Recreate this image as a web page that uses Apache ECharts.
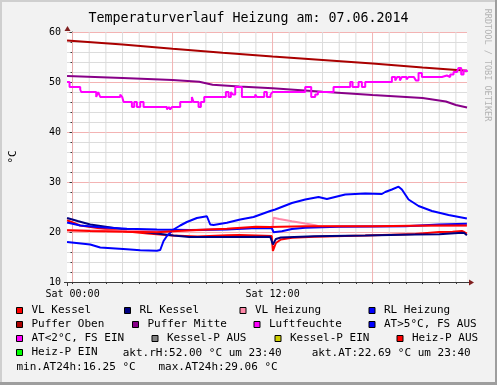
<!DOCTYPE html>
<html><head><meta charset="utf-8">
<script src="https://cdn.jsdelivr.net/npm/echarts@6.0.0/dist/echarts.min.js"></script>
<style>html,body{margin:0;padding:0;background:#f2f2f2}#c{width:497px;height:385px}</style>
</head><body><div id="c"></div>
<script>
// ---------- data (hours since Sat 00:00, value) ----------
const chartTitle = 'Temperaturverlauf Heizung am: 07.06.2014';
const xLabelHours = [0, 12];
const xLabelTexts = ['Sat 00:00', 'Sat 12:00'];
const hourGrid = [0,1,2,3,4,5,6,7,8,9,10,11,12,13,14,15,16,17,18,19,20,21,22,23];
const majorHours = [0, 6, 12, 18];
const yTicks = [10, 20, 30, 40, 50, 60];

const vlKessel = [[-0.33,22.35],[0.46,21.3],[1.5,20.8],[3,20.2],[4.5,19.7],[6,19.3],[7.5,19.1],[9.3,19.35],[10,19.4],[11.5,19.25],[11.95,19.2],[12.02,16.2],[12.2,17.8],[12.5,18.5],[13.16,18.85],[14.5,19.05],[17.56,19.3],[20.56,19.6],[22,20.0],[22.8,20.05],[23.36,20.2],[23.5,20.0],[23.66,19.7]];
const rlKessel = [[-0.33,22.8],[0.3,22.2],[1.06,21.5],[2.5,20.8],[4.5,19.9],[6.06,19.3],[7,19.0],[9.26,19.0],[11.86,19.05],[11.95,19.15],[12.02,17.5],[12.2,18.6],[12.5,18.9],[14.5,19.15],[17.56,19.3],[20.56,19.5],[22,19.55],[23.36,19.83],[23.5,19.8],[23.66,19.35]];
const vlHeizung = [[-0.33,20.35],[6,20.15],[11.86,20.95],[12.0,21.0],[12.06,22.85],[12.4,22.6],[13.16,22.15],[13.96,21.7],[14.56,21.37],[14.76,21.15],[18,21.15],[23.66,21.3]];
const rlHeizung = [[-0.33,21.9],[0.46,21.3],[1.66,20.95],[3.26,20.65],[5.06,20.5],[7.06,20.4],[9.26,20.5],[11.06,20.8],[11.96,20.75],[12.06,19.95],[12.56,20.15],[13.16,20.6],[13.96,20.85],[15.96,21.03],[19.96,21.17],[21.96,21.5],[23.66,21.63]];
const pufferOben = [[-0.33,58.3],[3,57.5],[6,56.65],[9,55.85],[12,55.1],[15,54.4],[18,53.7],[21,52.9],[23.67,52.25]];
const pufferMitte = [[-0.33,51.2],[3,50.8],[6,50.4],[7.6,50.05],[8.4,49.45],[10,49.1],[12,48.75],[15,48.05],[18,47.4],[21,46.8],[22.4,46.1],[23,45.4],[23.67,44.9]];
const luftfeuchte = [[-0.33,50],[-0.18,49],[0.46,48.5],[0.52,48],[1.42,47],[1.54,48],[1.66,47],[2.86,47.5],[2.98,47],[3.06,46],[3.56,45],[3.70,46],[3.86,45],[4.06,46],[4.26,45],[5.66,44.5],[5.78,45],[5.86,44.5],[5.96,45],[6.46,46],[7.16,47],[7.26,46],[7.56,45],[7.70,46],[7.90,47],[9.20,48],[9.36,47],[9.50,48],[9.62,47.5],[9.76,49],[10.16,47],[10.96,47.5],[11.06,47],[11.50,48],[11.66,47],[11.88,47.5],[12.00,48],[13.96,49],[14.32,47],[14.56,47.5],[14.72,48],[15.66,49],[16.66,50],[16.80,49],[17.16,50],[17.36,49],[17.56,50],[19.16,51],[19.36,50.3],[19.48,51],[19.64,50.3],[19.76,51],[20.04,50.5],[20.16,51],[20.48,51],[20.60,50.3],[20.76,51.8],[20.96,51],[22.16,51.3],[22.46,51],[22.66,51.5],[22.86,52],[23.06,51.7],[23.16,52.8],[23.32,51.5],[23.46,52.3],[23.66,52]];
const aussenTemp = [[-0.33,18],[1.06,17.5],[1.66,16.9],[3.26,16.55],[4.06,16.35],[5.06,16.25],[5.26,16.4],[5.46,18.2],[5.66,19.2],[6.06,20.5],[6.46,21.3],[6.86,22],[7.46,22.8],[8.06,23.15],[8.16,23.0],[8.26,21.5],[8.46,21.4],[9.26,21.85],[10.06,22.5],[10.86,23.0],[11.86,24.2],[12.16,24.5],[13.16,25.8],[13.96,26.5],[14.76,27.0],[15.26,26.6],[15.36,27.0],[16.36,27.5],[17.56,27.7],[18.56,27.6],[18.76,28.0],[19.16,28.5],[19.26,28.2],[19.56,29.06],[19.76,28.5],[20.16,26.5],[20.76,25.2],[21.56,24.2],[22.56,23.4],[23.66,22.69]];
const heizPAus = [[-0.33,20.35],[1.06,20.2],[3.26,20.05],[5.06,19.95],[6.06,20.15],[7.06,20.35],[9.26,20.65],[11,21.05],[11.86,21.0],[12.5,21.05],[14,21.15],[18,21.15],[21.56,21.3],[23.66,21.3]];
const emptySeries = [];

const seriesNames = ['VL Kessel','RL Kessel','VL Heizung','RL Heizung','Puffer Oben','Puffer Mitte','Luftfeuchte','AT>5°C, FS AUS','AT<2°C, FS EIN','Kessel-P AUS','Kessel-P EIN','Heiz-P AUS','Heiz-P EIN'];
const seriesData = [vlKessel, rlKessel, vlHeizung, rlHeizung, pufferOben, pufferMitte, luftfeuchte, aussenTemp, emptySeries, emptySeries, emptySeries, heizPAus, emptySeries];
const seriesColors = ['#ff0000','#000080','#ff88a8','#0000ff','#aa0000','#880088','#ff00ff','#0000ff','#ff00ff','#808080','#cccc00','#ff0000','#00ff00'];

// ---------- layout ----------
const FONT = '"DejaVu Sans Mono", monospace';
const rowCenters = [311.5, 325.5, 339.5, 353.5, 367.5];
const legendLayout = [
  ['VL Kessel',16,0],['RL Kessel',124,0],['VL Heizung',239.5,0],['RL Heizung',368.5,0],
  ['Puffer Oben',16,1],['Puffer Mitte',132,1],['Luftfeuchte',253.5,1],['AT>5°C, FS AUS',368.5,1],
  ['AT<2°C, FS EIN',16,2],['Kessel-P AUS',151.5,2],['Kessel-P EIN',274.5,2],['Heiz-P AUS',396.5,2],
  ['Heiz-P EIN',16,3]
];

const last = a => a[a.length-1][1];
const atVals = aussenTemp.map(p => p[1]);
const fmt = v => v.toFixed(2);

const legends = legendLayout.map(([name, left, row]) => ({
  data: [name], left: left, top: rowCenters[row] - 6.5, padding: 0,
  icon: 'rect', itemWidth: 6, itemHeight: 6, selectedMode: false,
  itemStyle: { borderColor: '#000', borderWidth: 1 },
  textStyle: { fontFamily: FONT, fontSize: 11, color: '#000', padding: [0,0,0,4] }
}));

const gridLineData = hours => {
  const d = [];
  hours.forEach(h => { d.push([h, 10], [h, 60], [h, '-']); });
  return d;
};

const series = seriesNames.map((n, i) => ({
  name: n, type: 'line', data: seriesData[i], color: seriesColors[i],
  showSymbol: false, symbol: 'none', z: 3,
  step: n === 'Luftfeuchte' ? 'end' : false,
  lineStyle: { width: 2, color: seriesColors[i] },
  itemStyle: { color: seriesColors[i] },
  animation: false, silent: true
}));
series.unshift(
  { name: '_minor', type: 'line', z: 1, silent: true, symbol: 'none', animation: false,
    data: gridLineData(hourGrid.filter(h => majorHours.indexOf(h) < 0)),
    lineStyle: { width: 1, color: '#dcdcdc' } },
  { name: '_major', type: 'line', z: 1.5, silent: true, symbol: 'none', animation: false,
    data: gridLineData(majorHours),
    lineStyle: { width: 1, color: '#f3b3b3' } }
);

const txt = (x, y, s) => ({ type: 'text', x: x, y: y, silent: true,
  style: { text: s, font: '11px ' + FONT, fill: '#000', align: 'left', verticalAlign: 'middle' } });

const option = {
  backgroundColor: '#f2f2f2',
  animation: false,
  title: { text: chartTitle, left: 'center', top: 7,
    textStyle: { fontFamily: FONT, fontSize: 13.3, fontWeight: 'normal', color: '#000' } },
  grid: { left: 67, right: 30, top: 32, bottom: 103, show: true, backgroundColor: '#ffffff', borderWidth: 0 },
  xAxis: {
    type: 'value', min: -1/3, max: 24 - 1/3,
    axisLine: { show: true, lineStyle: { color: '#3a3a3a', width: 1 } },
    axisTick: { show: true, customValues: hourGrid, length: 2, lineStyle: { color: '#3a3a3a' } },
    axisLabel: { customValues: xLabelHours, margin: 7,
      formatter: v => xLabelTexts[xLabelHours.indexOf(Math.round(v))] || '',
      fontFamily: FONT, fontSize: 10, color: '#000' },
    splitLine: { show: false }
  },
  yAxis: {
    type: 'value', min: yTicks[0], max: yTicks[yTicks.length-1], interval: 10,
    name: '°C', nameLocation: 'middle', nameGap: 48, nameRotate: 90,
    nameTextStyle: { fontFamily: FONT, fontSize: 11, color: '#000' },
    axisLine: { show: true, lineStyle: { color: '#3a3a3a', width: 1 } },
    axisTick: { show: true, length: 3, lineStyle: { color: '#3a3a3a' } },
    minorTick: { show: true, splitNumber: 5, length: 2, lineStyle: { color: '#3a3a3a' } },
    axisLabel: { margin: 6, fontFamily: FONT, fontSize: 10, color: '#000' },
    splitLine: { show: true, lineStyle: { color: '#f3b3b3', width: 1 } },
    minorSplitLine: { show: true, lineStyle: { color: '#dcdcdc', width: 1 } }
  },
  legend: legends,
  series: series,
  graphic: [
    { type: 'rect', shape: { x: 0, y: 0, width: 497, height: 2 }, style: { fill: '#cfcfcf' }, silent: true },
    { type: 'rect', shape: { x: 0, y: 0, width: 2, height: 385 }, style: { fill: '#cfcfcf' }, silent: true },
    { type: 'rect', shape: { x: 495, y: 0, width: 2, height: 385 }, style: { fill: '#9e9e9e' }, silent: true },
    { type: 'rect', shape: { x: 0, y: 382, width: 497, height: 3 }, style: { fill: '#9e9e9e' }, silent: true },
    { type: 'line', shape: { x1: 67.5, y1: 282, x2: 67.5, y2: 286 }, style: { stroke: '#3a3a3a', lineWidth: 1 }, silent: true },
    { type: 'line', shape: { x1: 64, y1: 282.5, x2: 470, y2: 282.5 }, style: { stroke: '#3a3a3a', lineWidth: 1 }, silent: true },
    { type: 'polygon', shape: { points: [[64.5,31],[70.5,31],[67.5,26]] }, style: { fill: '#801f1f' }, silent: true },
    { type: 'polygon', shape: { points: [[469,279.5],[469,285.5],[474,282.5]] }, style: { fill: '#801f1f' }, silent: true },
    { type: 'text', x: 487, y: 65, rotation: -Math.PI/2, silent: true,
      style: { text: 'RRDTOOL / TOBI OETIKER', font: '8.5px ' + FONT, fill: '#b4b4b4', align: 'center', verticalAlign: 'middle' } },
    txt(122.7, rowCenters[3], 'akt.rH:' + fmt(last(luftfeuchte)) + ' °C um 23:40'),
    txt(311.7, rowCenters[3], 'akt.AT:' + fmt(last(aussenTemp)) + ' °C um 23:40'),
    txt(16.5, rowCenters[4], 'min.AT24h:' + fmt(Math.min.apply(null, atVals)) + ' °C'),
    txt(158.5, rowCenters[4], 'max.AT24h:' + fmt(Math.max.apply(null, atVals)) + ' °C')
  ]
};

const chart = echarts.init(document.getElementById('c'), null, { renderer: 'canvas' });
chart.setOption(option);
</script>
</body></html>
